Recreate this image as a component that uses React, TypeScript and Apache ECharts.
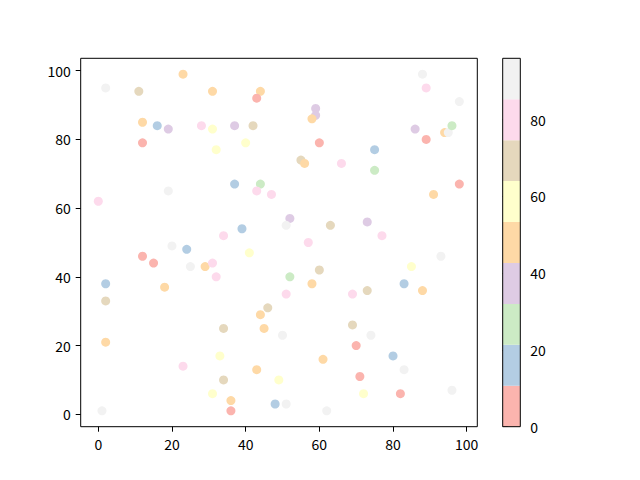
import { useEffect, useRef } from "react";
import * as echarts from "echarts";

// point x positions
const xs = [23, 2, 11, 31, 44, 43, 12, 16, 19, 28, 31, 37, 42, 12, 32, 40, 37, 44, 43, 47, 19, 0, 39, 34,
  88, 89, 98, 59, 59, 58, 86, 89, 94, 95, 96, 60, 75, 55, 56, 66, 75, 98, 91, 52, 51, 63, 73, 77, 57,
  20, 24, 41, 12, 15, 25, 29, 31, 32, 2, 18, 2, 46, 44, 45, 34, 2, 33, 23, 43, 34, 31, 36, 36, 1, 48,
  93, 85, 52, 60, 58, 51, 69, 73, 83, 88, 69, 74, 50, 70, 80, 61, 83, 49, 71, 72, 82, 96, 51, 62];
// point y positions
const ys = [99, 95, 94, 94, 94, 92, 85, 84, 83, 84, 83, 84, 84, 79, 77, 79, 67, 67, 65, 64, 65, 62, 54, 52,
  99, 95, 91, 89, 87, 86, 83, 80, 82, 82, 84, 79, 77, 74, 73, 73, 71, 67, 64, 57, 55, 55, 56, 52, 50,
  49, 48, 47, 46, 44, 43, 43, 44, 40, 38, 37, 33, 31, 29, 25, 25, 21, 17, 14, 13, 10, 6, 4, 1, 1, 3,
  46, 43, 40, 42, 38, 35, 35, 36, 38, 36, 26, 23, 23, 20, 17, 16, 13, 10, 11, 6, 6, 7, 3, 1];
// point colour values
const cs = [48, 91, 69, 48, 48, 5, 48, 16, 37, 80, 59, 37, 69, 5, 59, 59, 16, 27, 80, 80, 91, 80, 16, 80,
  91, 80, 91, 37, 37, 48, 37, 5, 48, 91, 27, 5, 16, 69, 48, 80, 27, 5, 48, 37, 91, 69, 37, 80, 80,
  91, 16, 59, 5, 5, 91, 48, 80, 80, 16, 48, 69, 69, 48, 48, 69, 48, 59, 80, 48, 69, 59, 48, 5, 91, 16,
  91, 59, 27, 69, 48, 80, 80, 69, 16, 48, 69, 91, 91, 5, 16, 48, 91, 59, 5, 59, 5, 91, 91, 91];

const axisTicks = [0, 20, 40, 60, 80, 100];
const colorbarTicks = [0, 20, 40, 60, 80];
const colorMin = 0;
const colorMax = 96;
const pastel1 = ["#fbb4ae", "#b3cde3", "#ccebc5", "#decbe4", "#fed9a6", "#ffffcc", "#e5d8bd", "#fddaec", "#f2f2f2"];

const FONT = "Noto Sans CJK SC";

export default function App() {
  const ref = useRef<HTMLDivElement>(null);
  useEffect(() => {
    const chart = echarts.init(ref.current!, null, { renderer: "svg" });
    const band = (colorMax - colorMin) / pastel1.length;
    const pieces = pastel1.map((c, i) => ({
      gte: colorMin + i * band,
      lt: i === pastel1.length - 1 ? colorMax + 1 : colorMin + (i + 1) * band,
      color: c,
    }));
    const points = xs.map((x, i) => [x, ys[i], cs[i]]);
    const labelStyle = { color: "#000", fontFamily: FONT, fontSize: 14 };
    const tickStyle = { show: true, inside: false, length: 5, lineStyle: { color: "#000", width: 1 } };
    const tickMin = axisTicks[0];
    const tickMax = axisTicks[axisTicks.length - 1];
    const cbTickMax = colorbarTicks[colorbarTicks.length - 1];

    // frame of main axes
    const fL = 80.7, fT = 58.3, fW = 396.6, fH = 368.4;
    // data area spanning 0..100
    const dL = 98.3, dT = 70.7, dW = 368.4, dH = 343.6;
    // colorbar
    const cbL = 502.7, cbT = 58.3, cbW = 17.6, cbH = 368.4;
    const cbTickTop = cbT + cbH * (1 - (cbTickMax - colorMin) / (colorMax - colorMin));

    const hiddenV = (g: number) => ({ gridIndex: g, type: "value", show: false, min: 0, max: 1 });
    const visibleAxis = (g: number, extra: any) => ({
      gridIndex: g, type: "value", interval: 20,
      axisLine: { show: false }, splitLine: { show: false }, axisTick: tickStyle,
      ...extra,
    });

    chart.setOption({
      animation: false,
      backgroundColor: "#fff",
      grid: [
        { left: fL, top: fT, width: fW, height: fH, show: true, borderColor: "#000", borderWidth: 1, backgroundColor: "transparent", z: 10 },
        { left: dL, top: dT, width: dW, height: dH },
        { left: dL, top: fT, width: dW, height: fH },
        { left: fL, top: dT, width: fW, height: dH },
        { left: cbL, top: cbT, width: cbW, height: cbH, show: true, borderColor: "#000", borderWidth: 1, backgroundColor: "transparent", z: 10 },
        { left: cbL, top: cbTickTop, width: cbW, height: cbT + cbH - cbTickTop },
      ],
      xAxis: [
        hiddenV(0),
        { gridIndex: 1, type: "value", show: false, min: tickMin, max: tickMax },
        visibleAxis(2, { min: tickMin, max: tickMax, axisLabel: { ...labelStyle, margin: 10 } }),
        hiddenV(3),
        { gridIndex: 4, type: "category", data: [""], show: false },
        hiddenV(5),
      ],
      yAxis: [
        hiddenV(0),
        { gridIndex: 1, type: "value", show: false, min: tickMin, max: tickMax },
        hiddenV(2),
        visibleAxis(3, { min: tickMin, max: tickMax, axisLabel: { ...labelStyle, margin: 10 } }),
        { gridIndex: 4, type: "value", show: false, min: colorMin, max: colorMax },
        visibleAxis(5, { position: "right", min: colorbarTicks[0], max: cbTickMax, axisLabel: { ...labelStyle, margin: 10 } }),
      ],
      visualMap: {
        type: "piecewise", show: false, dimension: 2, seriesIndex: 0, pieces,
      },
      series: [
        {
          type: "scatter", xAxisIndex: 1, yAxisIndex: 1, data: points, symbolSize: 9, clip: false,
          itemStyle: { opacity: 1 },
        },
        ...pastel1.map((c) => ({
          type: "bar", xAxisIndex: 4, yAxisIndex: 4, stack: "cb", data: [band],
          barWidth: "100%", barCategoryGap: 0, itemStyle: { color: c }, silent: true,
        })),
      ],
    });
    return () => chart.dispose();
  }, []);
  return <div ref={ref} style={{ position: "fixed", left: 0, top: 0, width: 640, height: 480 }} />;
}
